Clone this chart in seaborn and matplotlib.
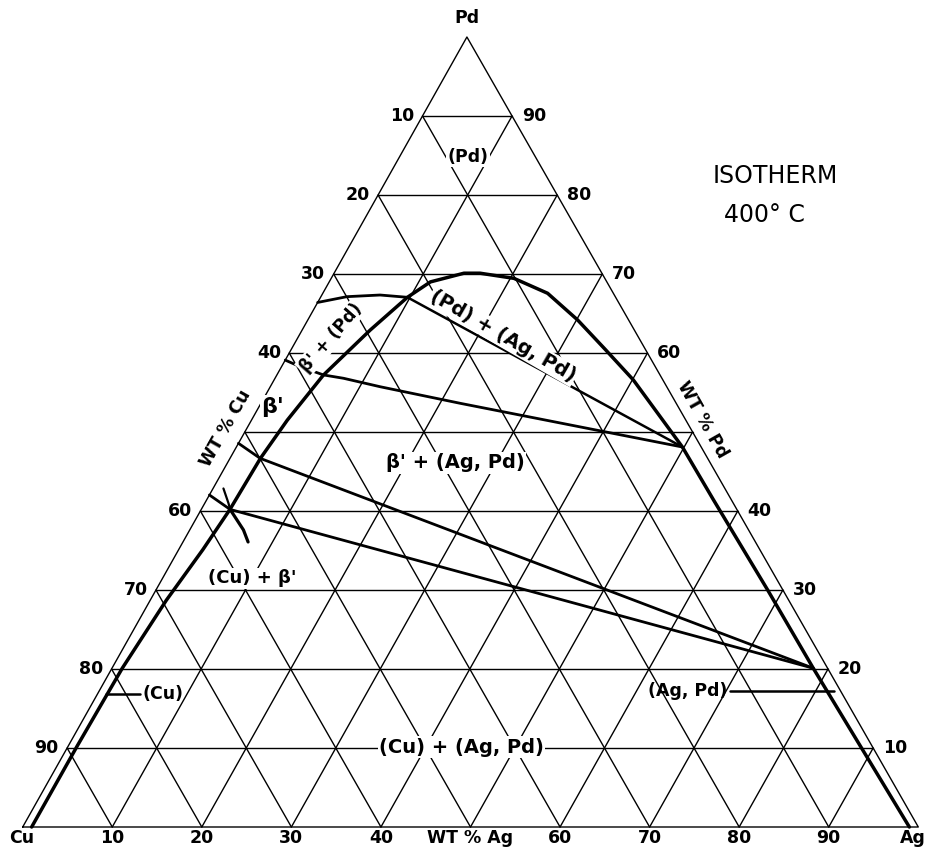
import numpy as np
import pandas as pd
import matplotlib
matplotlib.use("Agg")
import matplotlib.pyplot as plt
import seaborn as sns

sns.set_theme(style="white")
plt.rcParams['font.family'] = ['DejaVu Sans']
plt.rcParams['text.color'] = 'black'

# Compositions are wt % (Ag, Pd); Cu is the balance.
# (Cu) solvus / beta' boundary running up from the Cu corner
cu_side_ag = [1.0, 1.0, 1.15, 1.8, 2.7, 3.2, 3.4, 4.0, 5.2, 7.6, 9.7]
cu_side_pd = [0.0, 10.3, 20.1, 28.7, 35.1, 40.2, 46.7, 51.5, 57.2, 62.9, 67.05]
# (Pd) / (Ag,Pd) dome
dome_ag = [9.7, 11.3, 14.5, 16.3, 20.4, 25.1, 30.1, 35.0, 40.1, 49.8]
dome_pd = [67.05, 69.0, 70.1, 70.1, 69.45, 67.56, 64.2, 60.5, 56.6, 48.1]
# (Ag,Pd) boundary down to the Ag corner
agpd_side_ag = [49.8, 56.6, 68.3, 78.3, 88.7, 99.0]
agpd_side_pd = [48.1, 41.4, 30.0, 20.1, 10.0, 0.0]

# beta' + (Pd) field: upper and lower limits
bp_upper_ag = [0.0, 2.9, 6.5, 9.7]
bp_upper_pd = [66.4, 67.13, 67.34, 67.05]
bp_lower_ag = [0.0, 2.08, 5.21, 7.65, 12.27, 22.26, 49.8]
bp_lower_pd = [59.1, 58.27, 57.22, 56.8, 55.73, 53.63, 48.1]
# (Pd) + (Ag,Pd) tie line
pd_tie_ag = [9.7, 49.8]
pd_tie_pd = [67.05, 48.1]
# (Cu) + beta' + (Ag,Pd) tie triangle
tie_upper_ag = [0.0, 3.36, 78.3]
tie_upper_pd = [48.57, 46.67, 20.1]
tie_lower_ag = [0.0, 3.22, 78.3]
tie_lower_pd = [42.03, 40.2, 20.1]
# short (Cu) + beta' limits crossing at the three-phase corner
cross_top_ag = [1.16, 2.66, 3.22]
cross_top_pd = [42.85, 40.97, 40.2]
cross_low_ag = [3.22, 6.0, 7.27]
cross_low_pd = [40.2, 37.6, 36.08]

grid_levels = [10, 20, 30, 40, 50, 60, 70, 80, 90]
# labels along each side, listed by Pd (or Ag) grid level 10 ... 90
left_ticks = ["90", "80", "70", "60", "", "40", "30", "20", "10"]     # wt % Cu
right_ticks = ["10", "20", "30", "40", "", "60", "70", "80", "90"]    # wt % Pd
bottom_ticks = ["10", "20", "30", "40", "WT % Ag", "60", "70", "80", "90"]

# page geometry of the triangle (pixels of the 926 x 850 sheet)
X0, SX, Y0, SY, SKEW = 22.7, 8.956, 827.0, 7.9, 0.496
W, H = 926, 850


def to_xy(ag, pd_):
    ag = np.asarray(ag, float)
    pd_ = np.asarray(pd_, float)
    return ag + SKEW * pd_, pd_


fig = plt.figure(figsize=(W / 100, H / 100), dpi=100)
ax = fig.add_axes([0, 0, 1, 1])
ax.set_xlim(-X0 / SX, (W - X0) / SX)
ax.set_ylim((Y0 - H) / SY, Y0 / SY)
ax.axis("off")

# triangle outline and 10 % grid
rows = []
k = 0
outline = [(0, 0), (100, 0), (0, 100), (0, 0)]
for a, p in outline:
    x, y = to_xy(a, p)
    rows.append(dict(line=k, x=float(x), y=float(y)))
k += 1
for v in grid_levels:
    for seg in [((0, v), (100 - v, v)),          # constant Pd
                ((v, 0), (v, 100 - v)),          # constant Ag
                ((0, 100 - v), (100 - v, 0))]:   # constant Cu
        for a, p in seg:
            x, y = to_xy(a, p)
            rows.append(dict(line=k, x=float(x), y=float(y)))
        k += 1
grid = pd.DataFrame(rows)
sns.lineplot(data=grid, x="x", y="y", units="line", estimator=None, sort=False,
             color="black", lw=1.0, ax=ax, legend=False)


def curve(ag, pd_, lw):
    x, y = to_xy(ag, pd_)
    sns.lineplot(x=x, y=y, sort=False, estimator=None, color="black", lw=lw,
                 ax=ax, legend=False, solid_joinstyle="round", solid_capstyle="round")


# phase boundaries
curve(cu_side_ag + dome_ag[1:] + agpd_side_ag[1:],
      cu_side_pd + dome_pd[1:] + agpd_side_pd[1:], 2.5)
curve(bp_upper_ag, bp_upper_pd, 2.0)
curve(bp_lower_ag, bp_lower_pd, 2.0)
curve(pd_tie_ag, pd_tie_pd, 1.8)
curve(tie_upper_ag, tie_upper_pd, 2.0)
curve(tie_lower_ag, tie_lower_pd, 2.0)
curve(cross_top_ag, cross_top_pd, 1.6)
curve(cross_low_ag, cross_low_pd, 2.3)

# axis numbering
tick_font = dict(fontsize=12.5, fontweight="bold", color="black")
for v, lab in zip(grid_levels, left_ticks):
    if lab:
        x, y = to_xy(0, v)
        ax.annotate(lab, (x, y), xytext=(-6, 0), textcoords="offset points",
                    ha="right", va="center", **tick_font)
for v, lab in zip(grid_levels, right_ticks):
    if lab:
        x, y = to_xy(100 - v, v)
        ax.annotate(lab, (x, y), xytext=(7, 0), textcoords="offset points",
                    ha="left", va="center", **tick_font)
for v, lab in zip(grid_levels, bottom_ticks):
    x, y = to_xy(v, 0)
    ax.annotate(lab, (x, y), xytext=(0, -8), textcoords="offset points",
                ha="center", va="center", **tick_font)

for lab, (a, p), off in [("Cu", (0, 0), (-1, -8)), ("Ag", (100, 0), (-4, -8)),
                         ("Pd", (0, 100), (0, 14))]:
    x, y = to_xy(a, p)
    ax.annotate(lab, (x, y), xytext=off, textcoords="offset points",
                ha="center", va="center", **tick_font)

x, y = to_xy(-2.35, 50.5)
ax.text(x, y, "WT % Cu", rotation=60.5, ha="center", va="center",
        rotation_mode="anchor", **tick_font)
x, y = to_xy(50.4, 51.5)
ax.text(x, y, "WT % Pd", rotation=-60.5, ha="center", va="center",
        rotation_mode="anchor", **tick_font)

ax.text(0.837, 0.793, "ISOTHERM", transform=ax.transAxes, fontsize=17,
        ha="center", va="center", color="black")
ax.text(0.825, 0.747, "400° C", transform=ax.transAxes, fontsize=17,
        ha="center", va="center", color="black")

# field labels
box = dict(facecolor="white", edgecolor="none", pad=1.0)
fields = [
    ("(Pd)", (7.67, 84.8), 0, 12.5),
    ("(Pd) + (Ag, Pd)", (22.8, 62.15), -30, 14),
    ("β' + (Pd)", (3.7, 61.9), 49, 12.5),
    ("β'", (1.55, 53.2), 0, 16),
    ("β' + (Ag, Pd)", (25.4, 46.08), 0, 14),
    ("(Cu) + β'", (10.0, 31.5), 0, 13),
    ("(Cu) + (Ag, Pd)", (44.0, 10.1), 0, 14),
]
for lab, (a, p), rot, fs in fields:
    x, y = to_xy(a, p)
    ax.text(x, y, lab, rotation=rot, bbox=box, fontsize=fs, fontweight="bold",
            color="black", ha="center", va="center", rotation_mode="anchor")

# single-phase labels with pointers
x, y = to_xy(4.97, 16.84)
ax.text(x, y, "(Cu)", ha="left", va="center", fontsize=12.5, fontweight="bold",
        color="black")
curve([0.95, 4.75], [16.84, 16.84], 1.8)
x, y = to_xy(70.1, 17.2)
ax.text(x, y, "(Ag, Pd)", ha="right", va="center", fontsize=12.5, fontweight="bold",
        color="black")
curve([70.4, 82.1], [17.2, 17.2], 1.8)

fig.savefig("out.png", dpi=100, facecolor="white")
